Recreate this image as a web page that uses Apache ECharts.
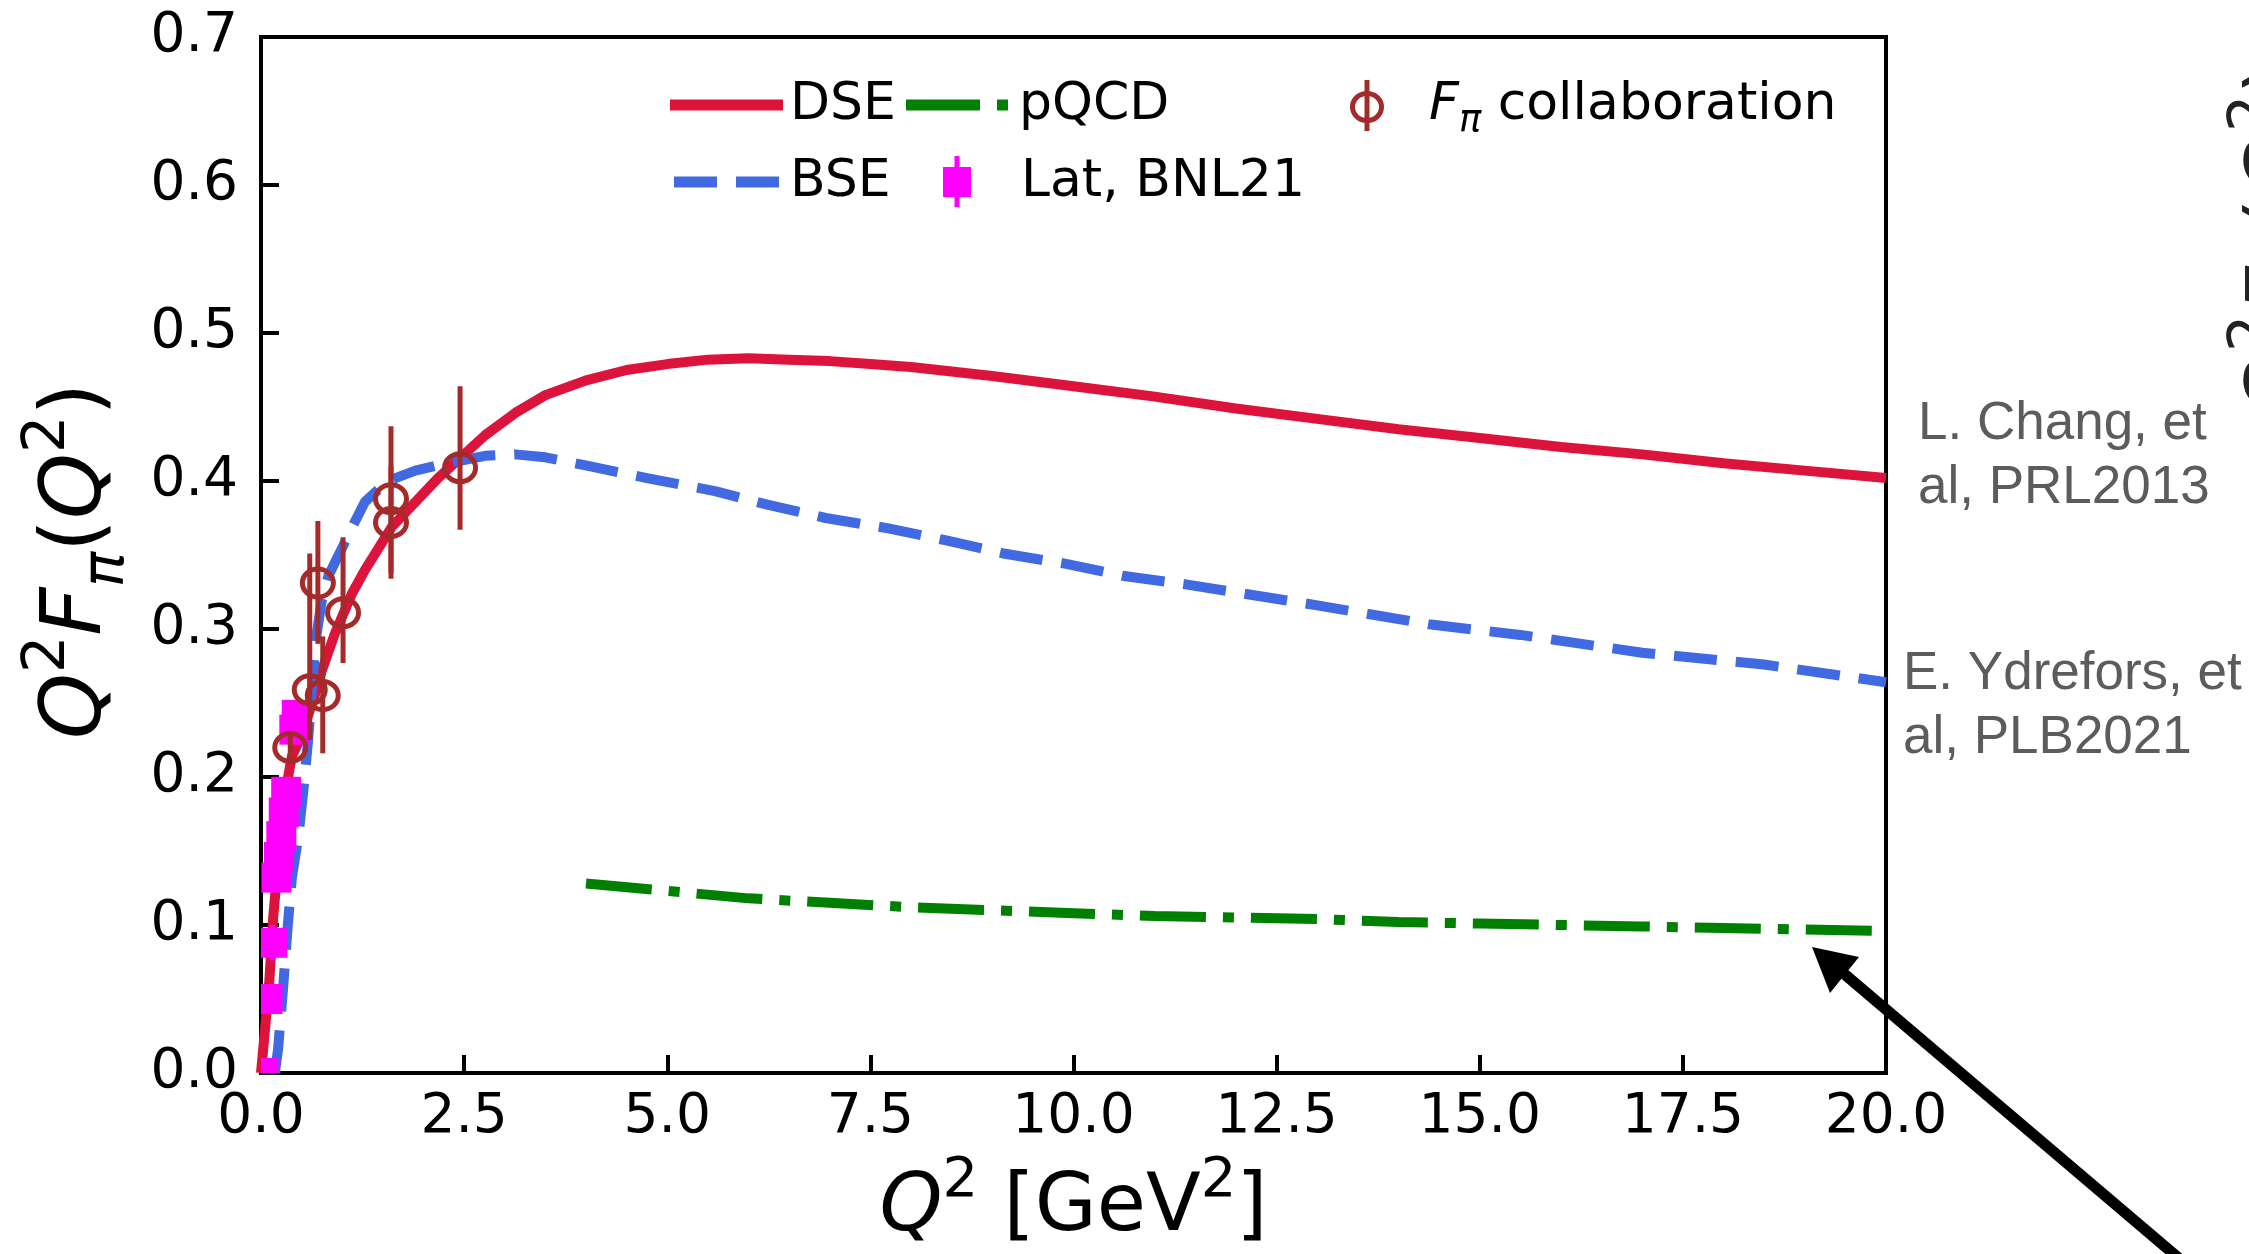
<!DOCTYPE html>
<html>
<head>
<meta charset="utf-8">
<title>Pion form factor Q²F_π(Q²)</title>
<script src="https://cdn.jsdelivr.net/npm/echarts@6/dist/echarts.min.js"></script>
<style>
  html, body { margin: 0; padding: 0; background: #fff; }
  #chart { width: 2249px; height: 1254px; }
</style>
</head>
<body>
<div id="chart"></div>
<script>
// ---- data ----------------------------------------------------------------
// DSE prediction (solid)
const DSE_Q2  = [0, 0.05, 0.1, 0.15, 0.23, 0.3, 0.38, 0.45, 0.54, 0.66, 0.75, 0.91, 1.12, 1.28, 1.61, 2.18, 2.48, 2.76, 3.13, 3.5, 4.0, 4.5, 5.0, 5.5, 6.0, 6.5, 7.0, 7.5, 8.0, 8.5, 9.0, 10, 11, 12, 13, 14, 15, 16, 17, 18, 19, 20];
const DSE_VAL = [0, 0.03, 0.06, 0.105, 0.155, 0.19, 0.214, 0.222, 0.235, 0.255, 0.272, 0.297, 0.324, 0.340, 0.369, 0.402, 0.417, 0.431, 0.446, 0.458, 0.468, 0.475, 0.479, 0.482, 0.483, 0.482, 0.481, 0.479, 0.477, 0.474, 0.471, 0.464, 0.457, 0.449, 0.442, 0.435, 0.429, 0.423, 0.418, 0.412, 0.407, 0.402];

// BSE prediction (dashed)
const BSE_Q2  = [0.17, 0.21, 0.27, 0.33, 0.38, 0.46, 0.52, 0.58, 0.63, 0.68, 0.75, 0.83, 1.0, 1.16, 1.28, 1.56, 1.9, 2.2, 2.48, 2.76, 3.13, 3.5, 4.04, 4.75, 5.6, 6.23, 6.95, 7.72, 8.42, 9.14, 9.91, 10.6, 11.4, 12.2, 13.0, 14.4, 15.5, 17.0, 18.5, 20.0];
const BSE_VAL = [0, 0.016, 0.056, 0.100, 0.132, 0.160, 0.190, 0.225, 0.262, 0.295, 0.320, 0.336, 0.355, 0.373, 0.386, 0.400, 0.407, 0.411, 0.414, 0.417, 0.418, 0.416, 0.410, 0.402, 0.393, 0.384, 0.375, 0.368, 0.360, 0.351, 0.344, 0.336, 0.330, 0.323, 0.316, 0.303, 0.296, 0.284, 0.276, 0.264];

// perturbative QCD (dash-dot)
const PQCD_Q2  = [4, 5, 6, 7, 8, 9, 10, 11, 12, 13, 14, 15, 16, 17, 18, 19, 20];
const PQCD_VAL = [0.128, 0.123, 0.118, 0.115, 0.112, 0.110, 0.108, 0.106, 0.105, 0.104, 0.102, 0.101, 0.100, 0.099, 0.098, 0.097, 0.096];

// F_pi collaboration measurements: value with lower / upper end of the error bar
const FPI_Q2  = [0.36, 0.60, 0.70, 0.76, 1.01, 1.60, 1.60, 2.45];
const FPI_VAL = [0.220, 0.259, 0.331, 0.255, 0.311, 0.388, 0.372, 0.409];
const FPI_LO  = [0.212, 0.225, 0.290, 0.216, 0.277, 0.338, 0.334, 0.367];
const FPI_HI  = [0.228, 0.351, 0.373, 0.295, 0.362, 0.437, 0.410, 0.464];

// lattice, BNL21
const LAT_Q2  = [0.03, 0.08, 0.14, 0.19, 0.22, 0.25, 0.28, 0.31, 0.41, 0.44];
const LAT_VAL = [0.000, 0.050, 0.088, 0.132, 0.146, 0.160, 0.176, 0.190, 0.232, 0.242];
const LAT_ERR = [0.002, 0.006, 0.012, 0.008, 0.008, 0.008, 0.008, 0.008, 0.008, 0.006];

// axis ranges
const X_MIN = 0, X_MAX = 20, X_STEP = 2.5;
const Y_MIN = 0, Y_MAX = 0.7, Y_STEP = 0.1;

// ---- styling -------------------------------------------------------------
const C_DSE = '#DC143C', C_BSE = '#4169E1', C_PQCD = '#008000', C_LAT = '#FF00FF', C_FPI = '#A52A2A';
const FONT = 'DejaVu Sans';
const GRAY = '#5c5c5c';

const pairs = (xs, ys) => xs.map((x, i) => [x, ys[i]]);

// rich-text pieces for the math-style labels
const mathRich = (size) => ({
  q:   { fontFamily: FONT, fontStyle: 'italic', fontSize: size, lineHeight: size * 1.4, color: '#000' },
  n:   { fontFamily: FONT, fontSize: size, lineHeight: size * 1.4, color: '#000' },
  sup: { fontFamily: FONT, fontSize: size * 0.7, lineHeight: size * 0.5, verticalAlign: 'top', color: '#000' },
  sub: { fontFamily: FONT, fontStyle: 'italic', fontSize: size * 0.7, lineHeight: size * 0.5, verticalAlign: 'bottom', color: '#000' }
});
const Y_LABEL = '{q|Q}{sup|2}{q|F}{sub|π}{n|(}{q|Q}{sup|2}{n|)}';
const X_LABEL = '{q|Q}{sup|2}{n| [GeV}{sup|2}{n|]}';

const chart = echarts.init(document.getElementById('chart'), null, { renderer: 'canvas' });

const LEG_FS = 52;
const legendText = (x, y, text, rich) => ({
  type: 'text', z: 100,
  style: Object.assign({ text, x, y, fill: '#000', font: `${LEG_FS}px "${FONT}"`, align: 'left', verticalAlign: 'middle' },
                       rich ? { rich } : {})
});

const R1 = 105, R2 = 182;   // legend rows

const option = {
  animation: false,
  backgroundColor: '#ffffff',
  grid: { left: 261, right: 363, top: 37, bottom: 179, show: true, borderColor: '#000', borderWidth: 4, backgroundColor: 'transparent' },
  xAxis: {
    type: 'value', min: X_MIN, max: X_MAX, interval: X_STEP,
    axisLine: { show: true, onZero: false, lineStyle: { color: '#000', width: 4 } },
    axisTick: { show: true, inside: true, length: 18, lineStyle: { color: '#000', width: 4 } },
    axisLabel: { show: true, margin: 17, fontFamily: FONT, fontSize: 55, color: '#000', showMinLabel: true, showMaxLabel: true,
                 formatter: v => v.toFixed(1) },
    splitLine: { show: false },
    name: X_LABEL, nameLocation: 'middle', nameGap: 80,
    nameTextStyle: { rich: mathRich(80) }
  },
  yAxis: {
    type: 'value', min: Y_MIN, max: Y_MAX, interval: Y_STEP,
    axisLine: { show: true, onZero: false, lineStyle: { color: '#000', width: 4 } },
    axisTick: { show: true, inside: true, length: 18, lineStyle: { color: '#000', width: 4 } },
    axisLabel: { show: true, margin: 23, fontFamily: FONT, fontSize: 55, color: '#000', showMinLabel: true, showMaxLabel: true,
                 formatter: v => v.toFixed(1) },
    splitLine: { show: false },
    name: Y_LABEL, nameLocation: 'middle', nameGap: 124, nameRotate: 90,
    nameTextStyle: { rich: mathRich(84), padding: [0, 12, 0, 0] }
  },
  series: [
    {
      name: 'DSE', type: 'line', data: pairs(DSE_Q2, DSE_VAL), symbol: 'none', z: 2, clip: true,
      lineStyle: { color: C_DSE, width: 10 }
    },
    {
      name: 'BSE', type: 'line', data: pairs(BSE_Q2, BSE_VAL), symbol: 'none', z: 3, clip: true,
      lineStyle: { color: C_BSE, width: 10, type: [43, 19] }
    },
    {
      name: 'pQCD', type: 'line', data: pairs(PQCD_Q2, PQCD_VAL), symbol: 'none', z: 4, clip: true,
      lineStyle: { color: C_PQCD, width: 10, type: [66, 17, 11, 17] }
    },
    {
      name: 'Lat, BNL21', type: 'custom', z: 5, clip: true,
      data: LAT_Q2.map((q, i) => [q, LAT_VAL[i], LAT_VAL[i] - LAT_ERR[i], LAT_VAL[i] + LAT_ERR[i]]),
      encode: { x: 0, y: 1 },
      renderItem: (params, api) => {
        const c = api.coord([api.value(0), api.value(1)]);
        const lo = api.coord([api.value(0), api.value(2)]);
        const hi = api.coord([api.value(0), api.value(3)]);
        const s = 30;
        return {
          type: 'group',
          children: [
            { type: 'line', shape: { x1: hi[0], y1: hi[1], x2: lo[0], y2: lo[1] }, style: { stroke: C_LAT, lineWidth: 5 } },
            { type: 'rect', shape: { x: c[0] - s / 2, y: c[1] - s / 2, width: s, height: s }, style: { fill: C_LAT } }
          ]
        };
      }
    },
    {
      name: 'F_pi collaboration', type: 'custom', z: 6, clip: true,
      data: FPI_Q2.map((q, i) => [q, FPI_VAL[i], FPI_LO[i], FPI_HI[i]]),
      encode: { x: 0, y: 1 },
      renderItem: (params, api) => {
        const c = api.coord([api.value(0), api.value(1)]);
        const lo = api.coord([api.value(0), api.value(2)]);
        const hi = api.coord([api.value(0), api.value(3)]);
        return {
          type: 'group',
          children: [
            { type: 'line', shape: { x1: hi[0], y1: hi[1], x2: lo[0], y2: lo[1] }, style: { stroke: C_FPI, lineWidth: 5 } },
            { type: 'ellipse', shape: { cx: c[0], cy: c[1], rx: 15.5, ry: 14 }, style: { fill: 'none', stroke: C_FPI, lineWidth: 5 } }
          ]
        };
      }
    }
  ],
  graphic: [
    // legend, column 1
    { type: 'line', z: 100, shape: { x1: 670, y1: R1, x2: 783, y2: R1 }, style: { stroke: C_DSE, lineWidth: 11 } },
    legendText(790, R1, 'DSE'),
    { type: 'line', z: 100, shape: { x1: 674, y1: R2, x2: 779, y2: R2 }, style: { stroke: C_BSE, lineWidth: 11, lineDash: [43, 19] } },
    legendText(790, R2, 'BSE'),
    // legend, column 2
    { type: 'line', z: 100, shape: { x1: 906, y1: R1, x2: 1009, y2: R1 }, style: { stroke: C_PQCD, lineWidth: 11, lineDash: [74, 17, 11, 17] } },
    legendText(1019, R1, 'pQCD'),
    { type: 'line', z: 100, shape: { x1: 957, y1: R2 - 26, x2: 957, y2: R2 + 25 }, style: { stroke: C_LAT, lineWidth: 5 } },
    { type: 'rect', z: 100, shape: { x: 943, y: R2 - 15, width: 28, height: 30 }, style: { fill: C_LAT } },
    legendText(1021, R2, 'Lat, BNL21'),
    // legend, column 3
    { type: 'line', z: 100, shape: { x1: 1367, y1: R1 - 25, x2: 1367, y2: R1 + 26 }, style: { stroke: C_FPI, lineWidth: 5 } },
    { type: 'ellipse', z: 100, shape: { cx: 1367, cy: R1 + 2, rx: 14.5, ry: 13.5 }, style: { fill: 'none', stroke: C_FPI, lineWidth: 5 } },
    legendText(1429, R1, '{i|F}{s|π}{n| collaboration}', {
      i: { fontFamily: FONT, fontStyle: 'italic', fontSize: LEG_FS, lineHeight: 70, fill: '#000' },
      n: { fontFamily: FONT, fontSize: LEG_FS, lineHeight: 70, fill: '#000' },
      s: { fontFamily: FONT, fontStyle: 'italic', fontSize: 37, lineHeight: 30, verticalAlign: 'bottom', fill: '#000' }
    }),
    // references beside the curves
    { type: 'text', z: 100, style: { text: 'L. Chang, et\nal, PRL2013', x: 1918, y: 392, fill: GRAY,
      font: '53px "Liberation Sans"', lineHeight: 64, align: 'left', verticalAlign: 'top' } },
    { type: 'text', z: 100, style: { text: 'E. Ydrefors, et\nal, PLB2021', x: 1903, y: 642, fill: GRAY,
      font: '53px "Liberation Sans"', lineHeight: 64, align: 'left', verticalAlign: 'top' } },
    // neighbouring panel's axis title, cut by the page edge
    { type: 'text', z: 100, x: 2284, y: 240, rotation: Math.PI / 2,
      style: { text: Y_LABEL, rich: mathRich(84), align: 'center', verticalAlign: 'middle', fill: '#222' } },
    // arrow pointing at the pQCD curve
    { type: 'line', z: 100, shape: { x1: 2215, y1: 1289, x2: 1842, y2: 972 }, style: { stroke: '#000', lineWidth: 11 } },
    { type: 'polygon', z: 101, shape: { points: [[1812, 947], [1859, 957], [1830, 993]] }, style: { fill: '#000' } }
  ]
};

chart.setOption(option);
</script>
</body>
</html>
